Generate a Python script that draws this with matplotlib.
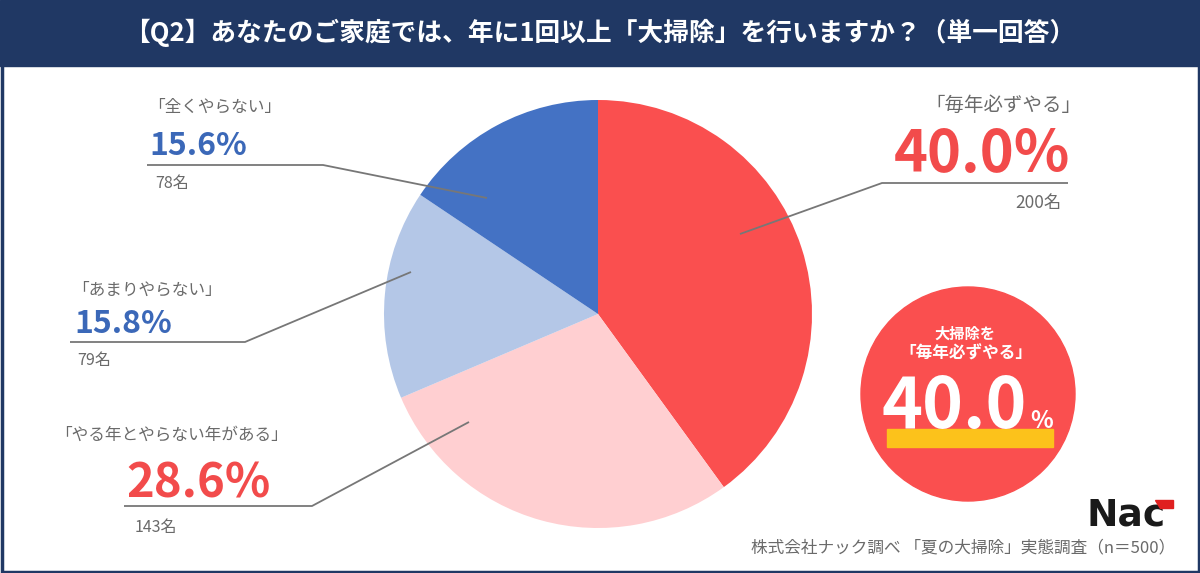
import matplotlib
matplotlib.use('Agg')
import matplotlib.pyplot as plt
from matplotlib.patches import Rectangle, Circle, Polygon

plt.rcParams['font.family'] = ['Noto Sans CJK JP', 'DejaVu Sans']

title = '【Q2】あなたのご家庭では、年に1回以上「大掃除」を行いますか？（単一回答）'
footer = '株式会社ナック調べ 「夏の大掃除」実態調査（n＝500）'

labels = ['毎年必ずやる', 'やる年とやらない年がある', 'あまりやらない', '全くやらない']
pcts = [40.0, 28.6, 15.8, 15.6]
counts = [200, 143, 79, 78]

navy = '#203864'
red = '#fa4f4f'
slice_colors = [red, '#ffcfd1', '#b4c7e7', '#4472c4']
pct_colors = ['#f24b4b', '#f24b4b', '#3b68b8', '#3b68b8']
gray = '#6a6a6a'
line_gray = '#777777'

fig = plt.figure(figsize=(12, 5.73), dpi=100)
ax = fig.add_axes([0, 0, 1, 1])

# pie (pixel coordinates, y axis pointing down)
ax.pie(pcts, colors=slice_colors, startangle=-90, counterclock=True,
       center=(598, 314), radius=214, wedgeprops=dict(linewidth=0))

ax.set_xlim(0, 1200)
ax.set_ylim(573, 0)
ax.set_aspect('auto')
ax.axis('off')

# header band
ax.add_patch(Rectangle((0, 0), 1200, 66, color=navy, zorder=1))
ax.text(600, 33, title, color='white', fontsize=18.5, fontweight='bold',
        ha='center', va='center', zorder=2)

# leader lines
leaders = [
    [(740, 234), (882, 183), (1068, 183)],
    [(469, 422), (312, 506), (124, 506)],
    [(411, 272), (245, 342), (70, 342)],
    [(487, 198), (323, 165), (147, 165)],
]
for pts in leaders:
    xs = [p[0] for p in pts]
    ys = [p[1] for p in pts]
    ax.plot(xs, ys, color=line_gray, lw=1.3, zorder=3, solid_capstyle='butt')

# label layout: (label xy, label size, pct xy, pct size, count xy, count ha)
layout = [
    ((925, 105), 14, (894, 172), 41.5, (1062, 203), 'right'),
    ((55, 435), 12, (126, 497), 34, (135, 527), 'left'),
    ((72, 290), 12, (74, 333), 23, (77, 360), 'left'),
    ((148, 107), 12, (149, 155), 23, (155, 183), 'left'),
]
for i, (lxy, lsz, pxy, psz, cxy, cha) in enumerate(layout):
    ax.text(lxy[0], lxy[1], f'「{labels[i]}」', color=gray, fontsize=lsz,
            ha='left', va='center', zorder=4)
    ax.text(pxy[0], pxy[1], f'{pcts[i]:.1f}%', color=pct_colors[i], fontsize=psz,
            fontweight='bold', ha='left', va='baseline', zorder=4)
    ax.text(cxy[0], cxy[1], f'{counts[i]}名', color=gray, fontsize=12.5 if i == 0 else 11.5,
            ha=cha, va='center', zorder=4)

# highlight circle
ax.add_patch(Circle((968, 394), 107, color=red, zorder=2))
ax.add_patch(Rectangle((887, 429), 166, 18, color='#fcc21b', zorder=3))
ax.text(965, 334, '大掃除を', color='white', fontsize=11, fontweight='bold',
        ha='center', va='center', zorder=4)
ax.text(966, 354, f'「{labels[0]}」', color='white', fontsize=12, fontweight='bold',
        ha='center', va='center', zorder=4)
ax.text(1027, 428, f'{pcts[0]:.1f}', color='white', fontsize=50, fontweight='bold',
        ha='right', va='baseline', zorder=4)
ax.text(1030, 428, '%', color='white', fontsize=17, fontweight='bold',
        ha='left', va='baseline', zorder=4)

# logo
ax.text(1087, 525, 'Nac', color='#1a1a1a', fontsize=27, fontweight='heavy',
        family='DejaVu Sans', ha='left', va='baseline', zorder=4)
ax.add_patch(Polygon([(1155, 500), (1173, 500), (1173, 508), (1160, 508)],
                     closed=True, color='#e02020', zorder=5))

# footer
ax.text(1175, 548, footer, color=gray, fontsize=12, ha='right', va='center', zorder=4)

# frame
ax.add_patch(Rectangle((1.5, 0), 1197, 571.5, fill=False, edgecolor=navy, lw=2.5, zorder=6))

fig.savefig('out.png', dpi=100)
